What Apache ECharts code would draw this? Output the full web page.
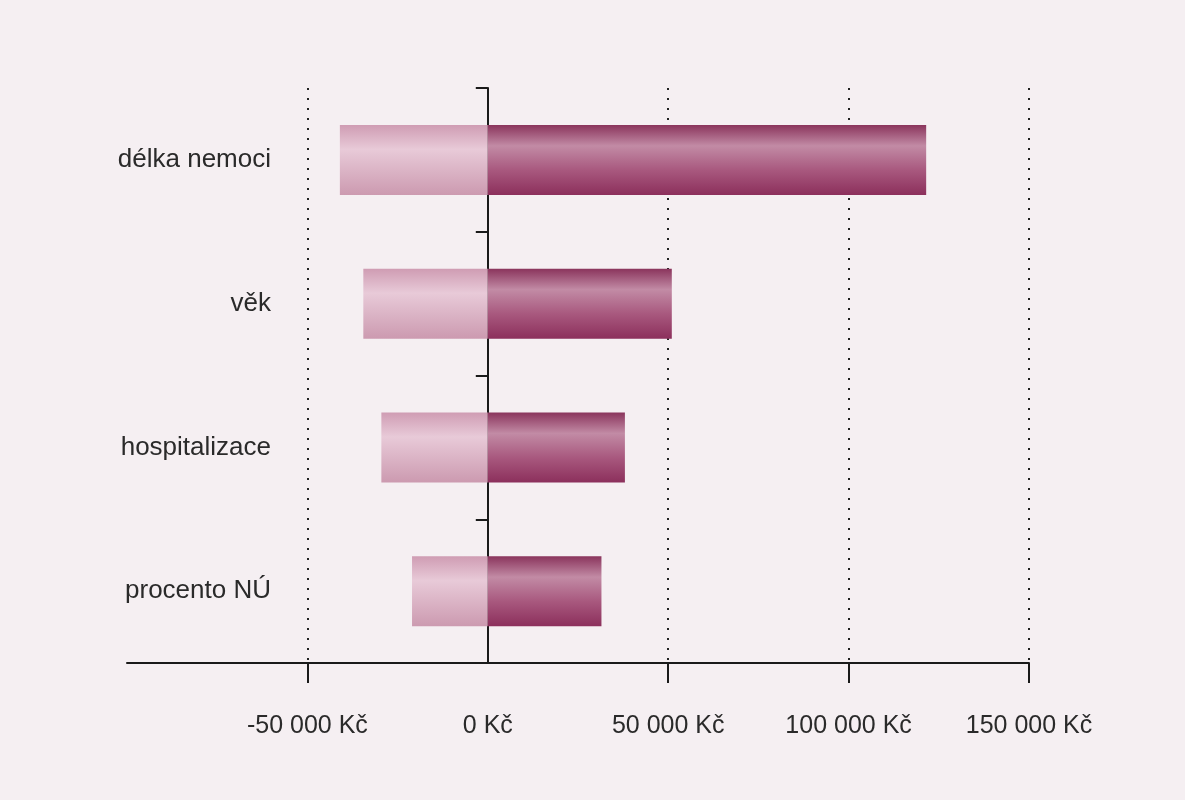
<!DOCTYPE html>
<html lang="cs">
<head>
    <meta charset="UTF-8">
    <title>Citlivostní analýza</title>
    <script src="https://cdn.jsdelivr.net/npm/echarts@6/dist/echarts.min.js"></script>
    <style>
        html, body { margin: 0; padding: 0; background: #f5eff2; }
        #chart { width: 1185px; height: 800px; }
    </style>
</head>
<body>
<div id="chart"></div>
<script>
    var categories = ['délka nemoci', 'věk', 'hospitalizace', 'procento NÚ'];
    var lowValues = [-41000, -34500, -29500, -21000];
    var highValues = [121500, 51000, 38000, 31500];
    var tickValues = [-50000, 50000, 100000, 150000];
    var labelValues = [-50000, 0, 50000, 100000, 150000];

    function kc(v) {
        var s = String(Math.abs(v)).replace(/\B(?=(\d{3})+(?!\d))/g, ' ');
        return (v < 0 ? '-' : '') + s + ' Kč';
    }

    var darkGrad = new echarts.graphic.LinearGradient(0, 0, 0, 1, [
        {offset: 0, color: '#8a345c'},
        {offset: 0.3, color: '#c28ba5'},
        {offset: 0.65, color: '#a8587e'},
        {offset: 1, color: '#8c305c'}
    ]);
    var lightGrad = new echarts.graphic.LinearGradient(0, 0, 0, 1, [
        {offset: 0, color: '#cf9cb3'},
        {offset: 0.35, color: '#e8cad8'},
        {offset: 1, color: '#cc9ab0'}
    ]);

    var chart = echarts.init(document.getElementById('chart'));
    chart.setOption({
        backgroundColor: '#f5eff2',
        animation: false,
        grid: {left: 127, right: 156, top: 88, bottom: 137, outerBoundsMode: 'none', containLabel: false},
        xAxis: {
            type: 'value',
            min: -100000,
            max: 150000,
            interval: 50000,
            axisLine: {show: true, onZero: false, lineStyle: {color: '#1a1a1a', width: 2}},
            axisTick: {show: true, length: 20, customValues: tickValues,
                lineStyle: {color: '#1a1a1a', width: 2}},
            axisLabel: {
                margin: 51,
                fontSize: 25,
                color: '#2a2a2a',
                fontFamily: 'Liberation Sans',
                customValues: labelValues,
                formatter: function (v) { return kc(v); }
            },
            splitLine: {
                show: true,
                lineStyle: {color: '#222', type: [2, 8], width: 2}
            }
        },
        yAxis: {
            type: 'category',
            inverse: true,
            data: categories,
            axisLine: {show: true, onZero: true, lineStyle: {color: '#1a1a1a', width: 2}},
            axisTick: {show: true, length: 12, lineStyle: {color: '#1a1a1a', width: 2}},
            axisLabel: {
                margin: -144,
                fontSize: 26,
                color: '#2a2a2a',
                fontFamily: 'Liberation Sans'
            }
        },
        series: [
            {
                name: 'min',
                type: 'bar',
                data: lowValues,
                barWidth: 70,
                barGap: '-100%',
                itemStyle: {color: lightGrad},
                z: 1
            },
            {
                name: 'max',
                type: 'bar',
                data: highValues,
                barWidth: 70,
                itemStyle: {color: darkGrad},
                z: 1
            }
        ]
    });
</script>
</body>
</html>
